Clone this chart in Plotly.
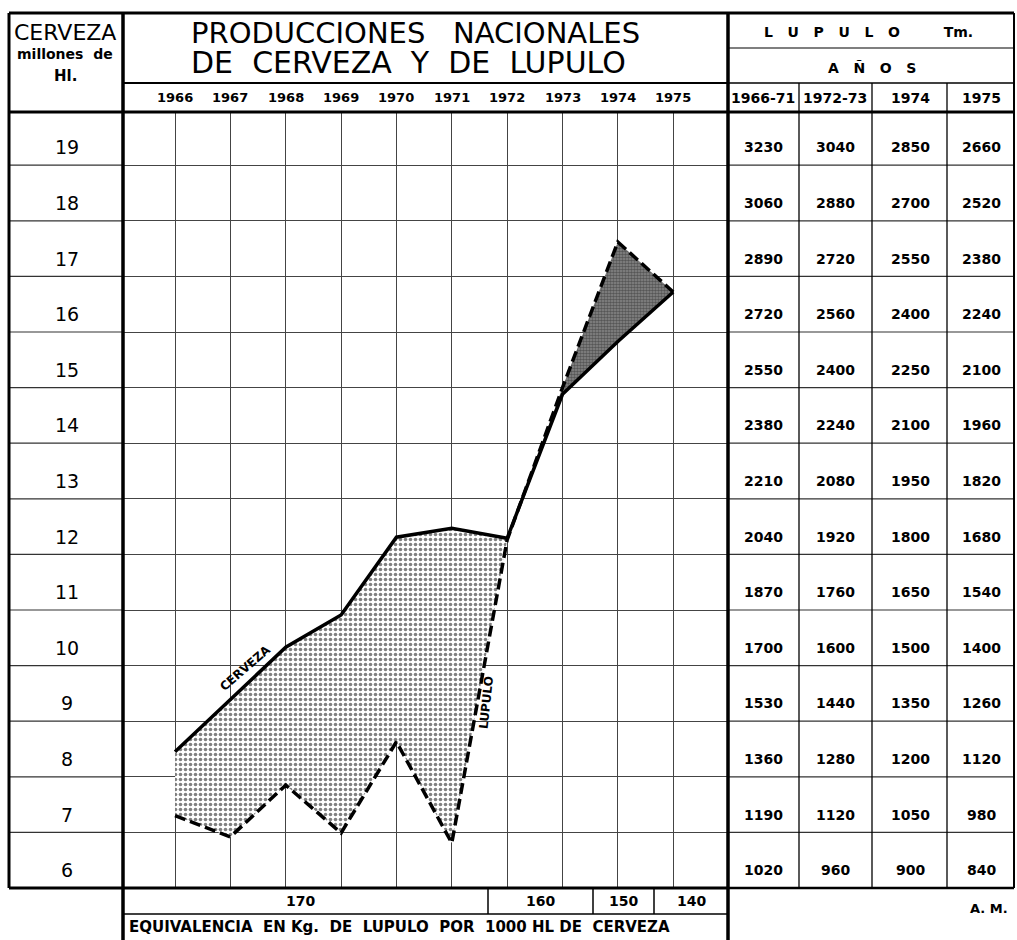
import plotly.graph_objects as go

# ---------------- data ----------------
years = [1966, 1967, 1968, 1969, 1970, 1971, 1972, 1973, 1974, 1975]
cerveza = [8.45, 9.40, 10.33, 10.91, 12.31, 12.47, 12.29, 14.88, 15.83, 16.72]
lupulo = [7.30, 6.92, 7.85, 6.99, 8.63, 6.81, 12.26, 15.00, 17.62, 16.72]

y_labels = [19, 18, 17, 16, 15, 14, 13, 12, 11, 10, 9, 8, 7, 6]
table_cols = ["1966-71", "1972-73", "1974", "1975"]
lup_6671 = [3230, 3060, 2890, 2720, 2550, 2380, 2210, 2040, 1870, 1700, 1530, 1360, 1190, 1020]
lup_7273 = [3040, 2880, 2720, 2560, 2400, 2240, 2080, 1920, 1760, 1600, 1440, 1280, 1120, 960]
lup_74 = [2850, 2700, 2550, 2400, 2250, 2100, 1950, 1800, 1650, 1500, 1350, 1200, 1050, 900]
lup_75 = [2660, 2520, 2380, 2240, 2100, 1960, 1820, 1680, 1540, 1400, 1260, 1120, 980, 840]
equiv_labels = ["170", "160", "150", "140"]

W, H = 1017, 940
FONT = "DejaVu Sans"


def px(x):
    return x / W


def py(y):
    return 1 - y / H


fig = go.Figure()

# ---- fills ----
i72 = years.index(1972)
fig.add_trace(go.Scatter(x=years[:i72 + 1], y=lupulo[:i72 + 1], mode="lines",
                         line=dict(width=0), showlegend=False, hoverinfo="skip"))
fig.add_trace(go.Scatter(x=years[:i72 + 1], y=cerveza[:i72 + 1], mode="lines",
                         line=dict(width=0), fill="tonexty", fillcolor="white",
                         fillpattern=dict(shape=".", size=5, solidity=0.4,
                                          fgcolor="black", bgcolor="white"),
                         showlegend=False, hoverinfo="skip"))
fig.add_trace(go.Scatter(x=years[i72:], y=cerveza[i72:], mode="lines",
                         line=dict(width=0), showlegend=False, hoverinfo="skip"))
fig.add_trace(go.Scatter(x=years[i72:], y=lupulo[i72:], mode="lines",
                         line=dict(width=0), fill="tonexty", fillcolor="#777",
                         fillpattern=dict(shape=".", size=3, solidity=0.6,
                                          fgcolor="#222", bgcolor="#8a8a8a"),
                         showlegend=False, hoverinfo="skip"))

# ---- lines ----
fig.add_trace(go.Scatter(x=years, y=cerveza, mode="lines", name="CERVEZA",
                         line=dict(color="black", width=3.5), showlegend=False))
fig.add_trace(go.Scatter(x=years, y=lupulo, mode="lines", name="LUPULO",
                         line=dict(color="black", width=3.5, dash="11px,5px"),
                         showlegend=False))

# ---- axes ----
fig.update_xaxes(domain=[px(123), px(728)], range=[1965.06, 1975.99],
                 tick0=1966, dtick=1, showgrid=True, gridcolor="#444", gridwidth=1,
                 showticklabels=False, zeroline=False, showline=False, fixedrange=True)
fig.update_yaxes(domain=[py(888), py(112)], range=[6, 6 + 776 / 55.6],
                 tick0=6, dtick=1, showgrid=True, gridcolor="#444", gridwidth=1,
                 showticklabels=False, zeroline=False, showline=False, fixedrange=True)

shapes = []


def hline(x0, x1, y, w=1.2, ref="paper"):
    if ref == "paper":
        shapes.append(dict(type="line", xref="paper", yref="paper", x0=px(x0), x1=px(x1),
                           y0=py(y), y1=py(y), line=dict(color="black", width=w)))
    else:
        shapes.append(dict(type="line", xref="paper", yref="y", x0=px(x0), x1=px(x1),
                           y0=y, y1=y, line=dict(color="#333", width=w)))


def vline(x, y0, y1, w=1.2):
    shapes.append(dict(type="line", xref="paper", yref="paper", x0=px(x), x1=px(x),
                       y0=py(y0), y1=py(y1), line=dict(color="black", width=w)))


# row lines through the left column and the table
for v in y_labels[:-1]:
    hline(9, 123, v, 1.2, ref="y")
    hline(728, 1014, v, 1.2, ref="y")

# left column frame
vline(9, 13, 888, 3)
hline(9, 728, 13, 3)
hline(9, 123, 112, 3)
hline(9, 123, 888, 3)
# plot frame
vline(123, 13, 940, 3.5)
vline(728, 13, 940, 3.5)
hline(123, 728, 83, 2)
hline(123, 1014, 112, 3)
hline(123, 728, 888, 3)
# right table
hline(728, 1014, 13, 3)
vline(1014, 13, 888, 2)
hline(728, 1014, 48, 1.2)
hline(728, 1014, 83, 1.5)
hline(728, 1014, 888, 2.5)
for cx in [799, 872, 947]:
    vline(cx, 83, 888, 1.3)
# bottom boxes
hline(123, 728, 914, 1.5)
for cx in [488, 593, 654]:
    vline(cx, 888, 914, 1.5)

fig.update_layout(shapes=shapes)

ann = []


def text(x, y, s, size=13, bold=False, xref="paper", yref="paper", xanchor="center",
         angle=0):
    ann.append(dict(x=x, y=y, xref=xref, yref=yref, text=("<b>%s</b>" % s) if bold else s,
                    showarrow=False, xanchor=xanchor, yanchor="middle", textangle=angle,
                    font=dict(family=FONT, size=size, color="black")))


# left column header
text(px(65), py(33), "CERVEZA", size=22)
text(px(65), py(54), "millones&nbsp;&nbsp;de", size=14, bold=True)
text(px(65), py(76), "Hl.", size=15, bold=True)
# title
text(px(415), py(33), "PRODUCCIONES&nbsp;&nbsp;&nbsp;NACIONALES", size=29)
text(px(408), py(63), "DE&nbsp;&nbsp;CERVEZA&nbsp;&nbsp;Y&nbsp;&nbsp;DE&nbsp;&nbsp;LUPULO", size=30)
# year labels
for yr in years:
    text(yr, py(98), str(yr), size=13, bold=True, xref="x")
# y labels and table values
cols_x = [763, 835, 910, 981]
cols = [lup_6671, lup_7273, lup_74, lup_75]
for i, v in enumerate(y_labels):
    text(px(67), v + 0.32, str(v), size=19, yref="y")
    for cx, col in zip(cols_x, cols):
        text(px(cx), v + 0.32, str(col[i]), size=14, bold=True, yref="y")
# table header
text(px(868), py(32), "L&nbsp;&nbsp;&nbsp;U&nbsp;&nbsp;&nbsp;P&nbsp;&nbsp;&nbsp;U&nbsp;&nbsp;&nbsp;L"
     "&nbsp;&nbsp;&nbsp;O&nbsp;&nbsp;&nbsp;&nbsp;&nbsp;&nbsp;&nbsp;&nbsp;&nbsp;Tm.",
     size=14, bold=True)
text(px(872), py(68), "A&nbsp;&nbsp;&nbsp;Ñ&nbsp;&nbsp;&nbsp;O&nbsp;&nbsp;&nbsp;S", size=14,
     bold=True)
for cx, lab in zip(cols_x, table_cols):
    text(px(cx), py(98), lab, size=14, bold=True)
# bottom equivalence
for cx, lab in zip([300, 540, 623, 691], equiv_labels):
    text(px(cx), py(901), lab, size=14, bold=True)
text(px(127), py(927), "EQUIVALENCIA&nbsp;&nbsp;EN&nbsp;Kg.&nbsp;&nbsp;DE&nbsp;&nbsp;LUPULO&nbsp;&nbsp;POR"
     "&nbsp;&nbsp;1000&nbsp;HL&nbsp;DE&nbsp;&nbsp;CERVEZA", size=15, bold=True, xanchor="left")
text(px(1010), py(908), "A.&nbsp;M.", size=13, bold=True, xanchor="right")
# series labels
text(1967.27, 9.96, "CERVEZA", size=12, bold=True, xref="x", yref="y", angle=-41)
text(1971.62, 9.33, "LUPULO", size=12, bold=True, xref="x", yref="y", angle=-84)

fig.update_layout(annotations=ann, width=W, height=H,
                  margin=dict(l=0, r=0, t=0, b=0),
                  plot_bgcolor="white", paper_bgcolor="white")

fig.write_html("out.html", config={"displayModeBar": False},
               post_script="document.body.style.margin='0';"
                           "document.body.style.overflow='hidden';")
